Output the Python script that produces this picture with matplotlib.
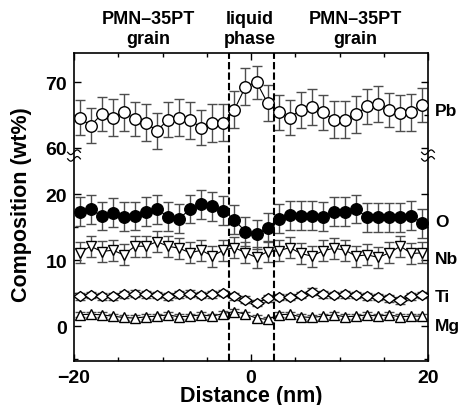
import matplotlib
matplotlib.use('Agg')
import matplotlib.pyplot as plt
import matplotlib.transforms as mtransforms
from matplotlib.path import Path
import numpy as np

plt.rcParams['font.family'] = ['Liberation Sans', 'DejaVu Sans']
plt.rcParams['font.weight'] = 'bold'

# distance of each analysis point (nm)
distance = [-19.375 + 1.25 * k for k in range(32)]

# composition (wt%)
pb = [64.6, 63.4, 65.1, 64.6, 65.4, 64.4, 63.8, 62.6, 64.3, 64.6, 64.2, 63.1, 63.8, 63.8, 65.8, 69.3,
      70.0, 66.8, 65.4, 64.6, 65.8, 66.2, 65.4, 64.3, 64.3, 65.1, 66.3, 66.7, 65.8, 65.3, 65.4, 66.5]
pb_err = [2.7, 2.7, 2.6, 2.8, 2.8, 2.6, 2.8, 2.7, 2.7, 2.8, 2.8, 2.7, 2.9, 2.8, 2.8, 2.8,
          2.5, 2.7, 2.7, 2.7, 2.7, 2.7, 2.6, 2.8, 2.8, 2.8, 2.7, 2.7, 2.6, 2.7, 2.8, 2.6]
o = [17.3, 17.7, 16.7, 17.2, 16.6, 16.7, 17.3, 17.7, 16.6, 16.3, 17.7, 18.5, 18.2, 17.5, 16.1, 14.3,
     13.9, 14.9, 16.3, 16.8, 16.7, 16.7, 16.6, 17.3, 17.3, 17.7, 16.5, 16.5, 16.5, 16.5, 16.7, 15.6]
o_err = [2.2, 2.2, 2.1, 2.2, 2.2, 2.1, 2.2, 2.2, 2.2, 2.2, 2.1, 2.2, 2.2, 2.2, 2.2, 2.2,
         2.2, 2.2, 2.2, 2.2, 2.2, 2.2, 2.2, 2.2, 2.2, 2.1, 2.2, 2.2, 2.2, 2.2, 2.2, 2.2]
nb = [11.1, 12.1, 11.3, 11.5, 10.8, 12.1, 12.1, 12.8, 12.1, 11.8, 11.1, 11.5, 10.6, 11.5, 11.9, 11.1,
      10.4, 11.3, 11.4, 11.9, 11.0, 10.6, 11.4, 11.8, 11.5, 10.6, 10.8, 10.4, 11.1, 12.1, 11.0, 11.1]
nb_err = [1.6] * 32
ti = [4.5, 4.7, 4.5, 4.5, 4.8, 4.9, 4.8, 4.7, 4.5, 4.8, 4.9, 4.7, 4.8, 5.0, 4.5, 4.0,
      3.5, 4.2, 4.4, 4.4, 4.7, 5.2, 4.8, 4.7, 4.8, 4.7, 4.5, 4.4, 4.2, 3.9, 4.5, 4.7]
ti_err = [0.5] * 32
mg = [1.7, 1.8, 1.7, 1.5, 1.3, 1.2, 1.4, 1.5, 1.7, 1.4, 1.5, 1.7, 1.5, 1.9, 2.2, 1.8,
      1.2, 1.0, 1.7, 1.8, 1.4, 1.3, 1.5, 1.7, 1.4, 1.5, 1.7, 1.5, 1.7, 1.4, 1.5, 1.5]
mg_err = [0.4] * 32

boundaries = [-2.5, 2.6]
regions = ['PMN\u201335PT\ngrain', 'liquid\nphase', 'PMN\u201335PT\ngrain']
region_x = [-11.6, -0.1, 11.8]

# broken y axis: values above the break are shifted down
SHIFT = 33.0
BREAK = 25.8

# flat diamond used for Ti
wide_diamond = Path([(-1, 0), (0, 0.75), (1, 0), (0, -0.75), (-1, 0)],
                    [Path.MOVETO, Path.LINETO, Path.LINETO, Path.LINETO, Path.CLOSEPOLY])

my_dpi = 100
fig = plt.figure(figsize=(461 / my_dpi, 406 / my_dpi), dpi=my_dpi)
ax = fig.add_axes([74 / 461, 1 - 362 / 406, 354 / 461, 308 / 406])

series = [
    (np.array(pb) - SHIFT, pb_err, 'o', 'white', 8.3),
    (o, o_err, 'o', 'black', 8.3),
    (nb, nb_err, 'v', 'white', 7.5),
    (ti, ti_err, wide_diamond, 'white', 9.5),
    (mg, mg_err, '^', 'white', 6.8),
]
for vals, err, mk, fc, ms in series:
    ax.errorbar(distance, vals, yerr=err, fmt='none', ecolor='0.3', elinewidth=1.0,
                capsize=3.5, capthick=1.0, zorder=2)
    ax.plot(distance, vals, '-', color='black', lw=0.8, marker=mk, ms=ms,
            mfc=fc, mec='black', mew=1.0, zorder=3)

for b in boundaries:
    ax.axvline(b, color='black', lw=1.5, ls=(0, (3.5, 1.5)), zorder=4)

ax.set_xlim(-20, 20)
ax.set_ylim(-5.3, 41.4)
ax.set_xticks([-20, 0, 20])
ax.set_xticklabels(['\u221220', '0', '20'])
ax.set_xticks([-15, -10, -5, 5, 10, 15], minor=True)
ax.set_yticks([0, 10, 20, 60 - SHIFT, 70 - SHIFT])
ax.set_yticklabels(['0', '10', '20', '60', '70'])
ax.set_yticks([-5, 5, 15, 65 - SHIFT], minor=True)
ax.tick_params(which='both', direction='in', top=True, right=True, labelsize=14, width=1.0)
ax.tick_params(which='major', length=5)
ax.tick_params(which='minor', length=3)
ax.tick_params(axis='x', pad=6)
ax.tick_params(axis='y', pad=5)
for s in ax.spines.values():
    s.set_linewidth(1.2)

ax.set_xlabel('Distance (nm)', fontsize=15.5, fontweight='bold', labelpad=-1)
fig.text(21 / 461, 1 - 205 / 406, 'Composition (wt%)', rotation=90, fontsize=15.5,
         fontweight='bold', ha='center', va='center')

# region titles above the axes
for txt, xr in zip(regions, region_x):
    ax.text(xr, 1.02, txt, transform=mtransforms.blended_transform_factory(ax.transData, ax.transAxes),
            ha='center', va='bottom', fontsize=13, fontweight='bold', linespacing=1.25)

# element labels on the right
trans = mtransforms.blended_transform_factory(ax.transAxes, ax.transData)
for name, yv in [('Pb', 32.7), ('O', 15.8), ('Nb', 10.3), ('Ti', 4.55), ('Mg', 0.15)]:
    ax.text(1.02, yv, name, transform=trans, ha='left', va='center', fontsize=12.5, fontweight='bold')

# axis break marks
tw = np.linspace(-0.018, 0.018, 30)
for xs in [0, 1]:
    for dy in [-0.45, 0.55]:
        ax.plot(xs + tw, BREAK + dy + 0.35 * np.sin(tw / 0.018 * np.pi), transform=trans,
                color='black', lw=0.9, clip_on=False, zorder=5)

plt.savefig('out.png', dpi=my_dpi)
